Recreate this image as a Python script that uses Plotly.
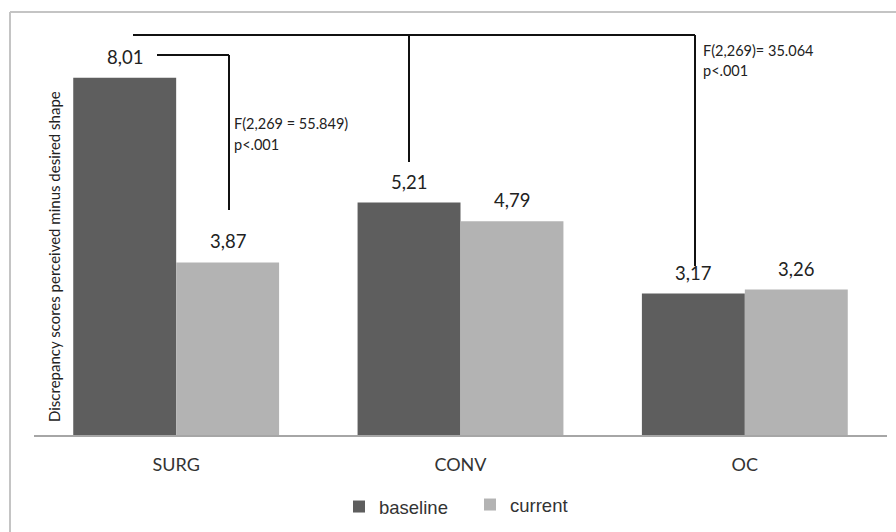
import plotly.graph_objects as go

categories = ["SURG", "CONV", "OC"]
baseline = [8.01, 5.21, 3.17]
current = [3.87, 4.79, 3.26]
series_names = ["baseline", "current"]
y_title = "Discrepancy scores perceived minus desired shape"
stat_surg = ["F(2,269 = 55.849)", "p<.001"]
stat_all = ["F(2,269)= 35.064", "p<.001"]

FONT = "Lato, Open Sans, sans-serif"
C_BASE = "#5e5e5e"
C_CUR = "#b3b3b3"

# plot area geometry (pixels)
L, R, T, B = 34, 9, 30, 97
W, H = 896, 532
pw, ph = W - L - R, H - T - B
YMAX = 9.08

def px_x(px):
    return (px - L) / pw

def px_y(py):
    return (H - B - py) / ph

fig = go.Figure()
fig.add_bar(x=categories, y=baseline, name=series_names[0], marker_color=C_BASE,
            marker_line_width=0, legend="legend")
fig.add_bar(x=categories, y=current, name=series_names[1], marker_color=C_CUR,
            marker_line_width=0, legend="legend2")

annotations = []
shift = pw / 3 * 0.724 / 4
for i, cat in enumerate(categories):
    for vals, sh in ((baseline, -shift), (current, shift)):
        annotations.append(dict(x=cat, y=vals[i], xref="x", yref="y", xshift=sh, yshift=21,
                                text=f"{vals[i]:.2f}".replace(".", ","), showarrow=False,
                                font=dict(family=FONT, size=18.5, color="#222"),
                                xanchor="center", yanchor="middle"))

annotations.append(dict(x=px_x(54), y=px_y(257), xref="paper", yref="paper",
                        text=y_title, textangle=-90, showarrow=False,
                        xanchor="center", yanchor="middle",
                        font=dict(family=FONT, size=15, color="#222")))

for k, t in enumerate(stat_surg):
    annotations.append(dict(x=px_x(232), y=px_y(124 + 20 * k), xref="paper", yref="paper",
                            text=t, showarrow=False, xanchor="left", yanchor="middle",
                            font=dict(family=FONT, size=14.5, color="#222")))
for k, t in enumerate(stat_all):
    annotations.append(dict(x=px_x(701), y=px_y(50 + 21 * k), xref="paper", yref="paper",
                            text=t, showarrow=False, xanchor="left", yanchor="middle",
                            font=dict(family=FONT, size=14.5, color="#222")))

line = dict(color="#111", width=2)
shapes = [
    # outer frame
    dict(type="line", xref="paper", yref="paper", x0=px_x(10), x1=px_x(896),
         y0=px_y(12), y1=px_y(12), line=dict(color="#c4c4c4", width=2)),
    dict(type="line", xref="paper", yref="paper", x0=px_x(10), x1=px_x(10),
         y0=px_y(12), y1=px_y(532), line=dict(color="#c4c4c4", width=2)),
    # big bracket
    dict(type="line", xref="paper", yref="paper", x0=px_x(133), x1=px_x(695),
         y0=px_y(35), y1=px_y(35), line=line),
    dict(type="line", xref="paper", yref="paper", x0=px_x(409), x1=px_x(409),
         y0=px_y(35), y1=px_y(162), line=line),
    dict(type="line", xref="paper", yref="paper", x0=px_x(695), x1=px_x(695),
         y0=px_y(35), y1=px_y(266), line=line),
    # SURG bracket
    dict(type="line", xref="paper", yref="paper", x0=px_x(157), x1=px_x(229),
         y0=px_y(55), y1=px_y(55), line=line),
    dict(type="line", xref="paper", yref="paper", x0=px_x(229), x1=px_x(229),
         y0=px_y(55), y1=px_y(210), line=line),
]

legend_font = dict(family="Liberation Sans, Arial, sans-serif", size=18.5, color="#333")
fig.update_layout(
    width=W, height=H,
    margin=dict(l=L, r=R, t=T, b=B, autoexpand=False),
    paper_bgcolor="white", plot_bgcolor="white",
    barmode="group", bargap=0.276, bargroupgap=0,
    font=dict(family=FONT, color="#333"),
    showlegend=True,
    legend=dict(orientation="h", xref="container", yref="container",
                x=339 / W, y=(H - 507) / H, xanchor="left", yanchor="middle",
                font=legend_font, itemwidth=30, bgcolor="rgba(0,0,0,0)"),
    legend2=dict(orientation="h", xref="container", yref="container",
                 x=470 / W, y=(H - 505) / H, xanchor="left", yanchor="middle",
                 font=legend_font, itemwidth=30, bgcolor="rgba(0,0,0,0)"),
    annotations=annotations,
    shapes=shapes,
)
fig.update_xaxes(showline=True, linecolor="#a6a6a6", linewidth=2, ticks="",
                 showgrid=False, ticklabelstandoff=12,
                 tickfont=dict(family=FONT, size=18, color="#333"))
fig.update_yaxes(range=[0, YMAX], showgrid=False, showticklabels=False, ticks="",
                 zeroline=False, showline=False)

fig.write_html("out.html", config={"displayModeBar": False},
               post_script="document.body.style.margin='0px';")
